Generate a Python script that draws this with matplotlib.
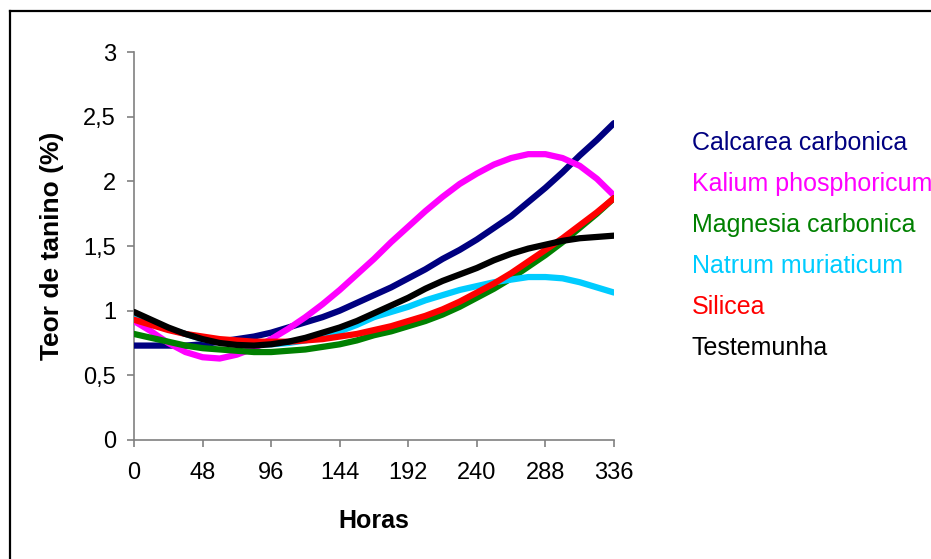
""" teor de tanino vs horas """

import numpy as np
import matplotlib
matplotlib.use('Agg')
import matplotlib.pyplot as plt
from matplotlib.ticker import FuncFormatter

horas = np.arange(0, 337, 12)

calcarea   = [0.73, 0.73, 0.73, 0.73, 0.74, 0.76, 0.78, 0.80, 0.83, 0.87, 0.91, 0.95, 1.00, 1.06, 1.12,
              1.18, 1.25, 1.32, 1.40, 1.47, 1.55, 1.64, 1.73, 1.84, 1.95, 2.07, 2.20, 2.32, 2.45]
kalium     = [0.92, 0.84, 0.75, 0.68, 0.64, 0.63, 0.66, 0.71, 0.78, 0.86, 0.95, 1.05, 1.16, 1.28, 1.40,
              1.53, 1.65, 1.77, 1.88, 1.98, 2.06, 2.13, 2.18, 2.21, 2.21, 2.18, 2.12, 2.02, 1.89]
magnesia   = [0.82, 0.79, 0.76, 0.73, 0.71, 0.70, 0.69, 0.68, 0.68, 0.69, 0.70, 0.72, 0.74, 0.77, 0.81,
              0.84, 0.88, 0.92, 0.97, 1.03, 1.10, 1.17, 1.25, 1.34, 1.43, 1.53, 1.64, 1.75, 1.87]
natrum     = [0.96, 0.91, 0.86, 0.82, 0.78, 0.76, 0.74, 0.74, 0.74, 0.75, 0.77, 0.80, 0.84, 0.89, 0.95,
              0.99, 1.03, 1.08, 1.12, 1.16, 1.19, 1.22, 1.24, 1.26, 1.26, 1.25, 1.22, 1.18, 1.14]
silicea    = [0.93, 0.89, 0.85, 0.82, 0.80, 0.78, 0.77, 0.76, 0.76, 0.76, 0.77, 0.78, 0.80, 0.82, 0.85,
              0.88, 0.92, 0.96, 1.01, 1.07, 1.14, 1.21, 1.29, 1.38, 1.47, 1.56, 1.66, 1.76, 1.87]
testemunha = [0.99, 0.93, 0.87, 0.82, 0.78, 0.75, 0.735, 0.73, 0.74, 0.76, 0.79, 0.83, 0.87, 0.92, 0.98,
              1.04, 1.10, 1.17, 1.23, 1.28, 1.33, 1.39, 1.44, 1.48, 1.51, 1.54, 1.56, 1.57, 1.58]

nomes = ["Calcarea carbonica", "Kalium phosphoricum", "Magnesia carbonica",
         "Natrum muriaticum", "Silicea", "Testemunha"]
series = [calcarea, kalium, magnesia, natrum, silicea, testemunha]
cores = ["#000080", "#FF00FF", "#008000", "#00CCFF", "#FF0000", "#000000"]

plt.rcParams['font.family'] = ['Liberation Sans', 'DejaVu Sans']

W, H = 931, 559
fig = plt.figure(figsize=(W / 100., H / 100.), dpi=100)
ax = fig.add_axes([134. / W, 1 - 440. / H, 480. / W, 388. / H])

for y, c, n in zip(series, cores, nomes):
    ax.plot(horas, y, color=c, lw=4.5, solid_capstyle='round', solid_joinstyle='round', label=n)

ax.set_xlim(0, 336)
ax.set_ylim(0, 3)
ax.set_xticks(np.arange(0, 337, 48))
ax.set_yticks(np.arange(0, 3.01, 0.5))
ax.yaxis.set_major_formatter(FuncFormatter(lambda v, p: ('%g' % v).replace('.', ',')))

for s in ['top', 'right']:
    ax.spines[s].set_visible(False)
for s in ['left', 'bottom']:
    ax.spines[s].set_color('#808080')
    ax.spines[s].set_linewidth(1.2)
ax.spines['left'].set_zorder(0)
ax.tick_params(axis='both', direction='out', length=5, width=1.2, color='#808080',
               labelsize=17, pad=8)
ax.tick_params(axis='x', pad=11)

ax.set_xlabel("Horas", fontsize=18, fontweight='bold', labelpad=18)
ax.set_ylabel("Teor de tanino (%)", fontsize=19, fontweight='bold', labelpad=14)

# legend as colored text, like the excel one
for i, (n, c) in enumerate(zip(nomes, cores)):
    fig.text(692. / W, 1 - (143. + 41 * i) / H, n, color=c, fontsize=18, va='center', ha='left')

# border of the chart area (right/bottom edges fall outside the image)
fig.add_artist(plt.Line2D([10. / W, 1.1], [1 - 10.5 / H, 1 - 10.5 / H], color='black', lw=1.6))
fig.add_artist(plt.Line2D([10. / W, 10. / W], [1 - 10.5 / H, -0.1], color='black', lw=1.6))

fig.savefig('out.png', dpi=100)
